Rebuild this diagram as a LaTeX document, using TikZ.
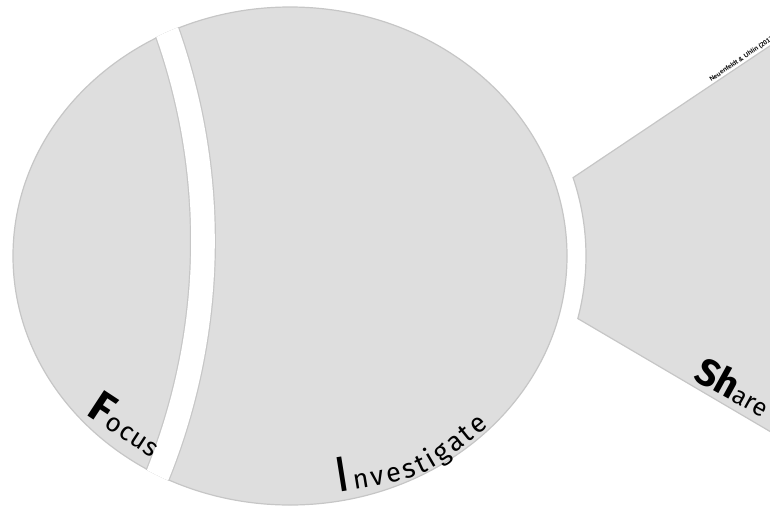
\documentclass[tikz,border=0pt]{standalone}
\usepackage{fontspec}
\setmainfont{Fira Sans}
\newfontfamily\citefont{Liberation Sans}
\usetikzlibrary{decorations.text}
\definecolor{fishgray}{RGB}{222,222,222}
\definecolor{edgegray}{RGB}{198,198,198}
\begin{document}
\begin{tikzpicture}[x=1pt,y=-1pt,
  piece/.style={fill=fishgray, draw=edgegray, line width=1.2pt},
  labeltext/.style={decorate, decoration={text along path, text align={fit to path}}}]
\useasboundingbox (0,0) rectangle (770,509);
\clip (0,0) rectangle (770,509);
% body of the fish
\coordinate (c) at (290,256);
\coordinate (gc) at (-423,241);
\draw[piece] (c) ellipse [x radius=277, y radius=249];
% curved gap between Focus and Investigate
\begin{scope}
  \clip (c) ellipse [x radius=277.8, y radius=249.8];
  \draw[edgegray, line width=26] ([shift={(-24:626)}]gc) arc[start angle=-24, end angle=26, radius=626];
  \draw[white, line width=23.6] ([shift={(-24:626)}]gc) arc[start angle=-24, end angle=26, radius=626];
\end{scope}
% tail (Share)
\coordinate (t1) at ([shift={(-17:296 and 268)}]c);
\coordinate (t2) at (822,11);
\coordinate (t3) at (822,462);
\coordinate (t4) at ([shift={(13.5:296 and 268)}]c);
\draw[piece] (t1) -- (t2) -- (t3) -- (t4) arc[start angle=13.5, end angle=-17, x radius=296, y radius=268] -- cycle;
% labels
\coordinate (f1) at (85,414);
\coordinate (f2) at (152,458);
\path[labeltext, decoration={text={|\fontsize{44}{44}\selectfont\bfseries|F|\fontsize{26}{26}\selectfont\mdseries|ocus}}] (f1) -- (f2);
\coordinate (i1) at (337,492);
\coordinate (i2) at (489,426);
\path[labeltext, decoration={text={|\fontsize{50}{50}\selectfont|I|\fontsize{27}{27}\selectfont|nvestigate}}] (i1) .. controls (425,478) .. (i2);
\coordinate (s1) at (692,379);
\coordinate (s2) at (759,416);
\path[labeltext, decoration={text={|\fontsize{38}{38}\selectfont\bfseries|Sh|\fontsize{25}{25}\selectfont\mdseries|are}}] (s1) -- (s2);
\node[anchor=south west, rotate=34, inner sep=0pt, font=\citefont\bfseries\fontsize{6.4}{7}\selectfont] (cite) at (712,83) {Neuenfeldt \& Uhlin (2017)};
\end{tikzpicture}
\end{document}
